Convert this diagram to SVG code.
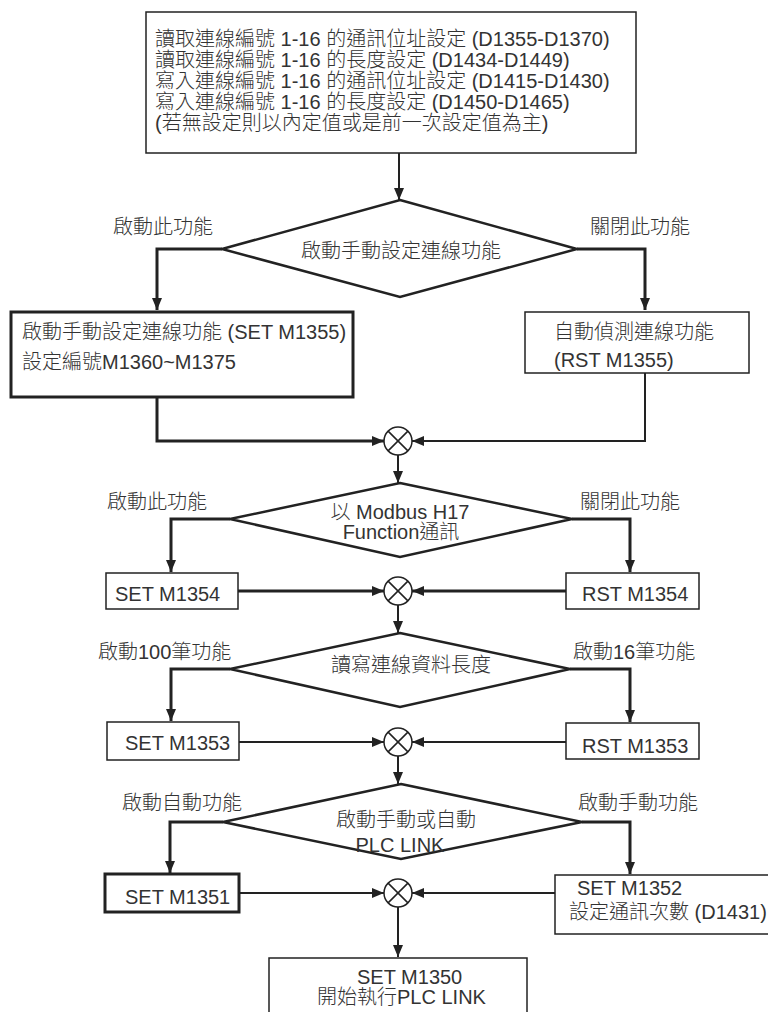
<svg xmlns="http://www.w3.org/2000/svg" width="768" height="1012" viewBox="0 0 768 1012">
<style>
text{font-family:"Liberation Sans","Noto Sans CJK TC","Noto Sans CJK SC",sans-serif;font-size:20px;fill:#333;font-weight:300}
.box{fill:#fff;stroke:#222;stroke-width:1.5}
.thick{stroke-width:3}
.dia{fill:#fff;stroke:#222;stroke-width:2.5;stroke-linejoin:miter}
.c{fill:none;stroke:#222;stroke-width:2}
.b{fill:none;stroke:#222;stroke-width:3}
.m{fill:#fff;stroke:#222;stroke-width:1.5}
.mid{text-anchor:middle}
</style>
<defs>
<marker id="ah" markerUnits="userSpaceOnUse" markerWidth="12" markerHeight="12" viewBox="0 0 12 12" refX="12" refY="6" orient="auto">
<path d="M0,1 L12,6 L0,11 Z" fill="#222"/>
</marker>
</defs>
<rect width="768" height="1012" fill="#fff"/>
<g id="connectors">
<path class="c" d="M399,153 V200" marker-end="url(#ah)"/>
<path class="b" d="M222,249 H157 V310" marker-end="url(#ah)"/>
<path class="b" d="M577,249 H645 V310" marker-end="url(#ah)"/>
<path class="b" d="M157,397 V441 H384" marker-end="url(#ah)"/>
<path class="c" d="M645,373 V441 H412" marker-end="url(#ah)"/>
<path class="c" d="M398,455 V483" marker-end="url(#ah)"/>
<path class="b" d="M230,519 H171 V572" marker-end="url(#ah)"/>
<path class="b" d="M572,519 H630 V572" marker-end="url(#ah)"/>
<path class="b" d="M238,591 H384" marker-end="url(#ah)"/>
<path class="b" d="M566,591 H412" marker-end="url(#ah)"/>
<path class="c" d="M398,605 V633" marker-end="url(#ah)"/>
<path class="b" d="M230,669 H171 V721" marker-end="url(#ah)"/>
<path class="b" d="M570,669 H630 V722" marker-end="url(#ah)"/>
<path class="c" d="M239,742 H384" marker-end="url(#ah)"/>
<path class="c" d="M566,742 H412" marker-end="url(#ah)"/>
<path class="c" d="M398,756 V784" marker-end="url(#ah)"/>
<path class="b" d="M223,822 H170 V873" marker-end="url(#ah)"/>
<path class="b" d="M582,822 H630 V874" marker-end="url(#ah)"/>
<path class="c" d="M239,893 H384" marker-end="url(#ah)"/>
<path class="c" d="M555,893 H412" marker-end="url(#ah)"/>
<path class="c" d="M398,907 V957" marker-end="url(#ah)"/>
</g>
<g id="start">
<rect class="box" x="146" y="12" width="490" height="141"/>
<text x="155" y="46">讀取連線編號 1-16 的通訊位址設定 (D1355-D1370)</text>
<text x="155" y="67">讀取連線編號 1-16 的長度設定 (D1434-D1449)</text>
<text x="155" y="88">寫入連線編號 1-16 的通訊位址設定 (D1415-D1430)</text>
<text x="155" y="109">寫入連線編號 1-16 的長度設定 (D1450-D1465)</text>
<text x="155" y="130">(若無設定則以內定值或是前一次設定值為主)</text>
</g>
<g id="d1">
<polygon class="dia" points="400,200 577,249 400,297 222,249"/>
<text class="mid" x="401" y="258">啟動手動設定連線功能</text>
<text x="113" y="234">啟動此功能</text>
<text x="590" y="234">關閉此功能</text>
</g>
<g id="manual">
<rect class="box thick" x="11" y="312" width="342" height="85"/>
<text x="22" y="339">啟動手動設定連線功能 (SET M1355)</text>
<text x="22" y="369">設定編號M1360~M1375</text>
</g>
<g id="auto">
<rect class="box" x="525" y="312" width="224" height="61"/>
<text x="554" y="339">自動偵測連線功能</text>
<text x="554" y="367">(RST M1355)</text>
</g>
<g id="m1">
<circle class="m" cx="398" cy="441" r="14"/>
<path class="m" d="M388.1,431.1 L407.9,450.9 M407.9,431.1 L388.1,450.9"/>
</g>
<g id="d2">
<polygon class="dia" points="400,483 572,519 400,557 230,519"/>
<text class="mid" x="400" y="519">以 Modbus H17</text>
<text class="mid" x="401" y="539">Function通訊</text>
<text x="107" y="509">啟動此功能</text>
<text x="580" y="509">關閉此功能</text>
</g>
<g id="set1354">
<rect class="box" x="106" y="573" width="132" height="36"/>
<text x="115" y="601">SET M1354</text>
</g>
<g id="rst1354">
<rect class="box" x="566" y="573" width="133" height="36"/>
<text x="582" y="601">RST M1354</text>
</g>
<g id="m2">
<circle class="m" cx="398" cy="591" r="14"/>
<path class="m" d="M388.1,581.1 L407.9,600.9 M407.9,581.1 L388.1,600.9"/>
</g>
<g id="d3">
<polygon class="dia" points="400,633 570,669 400,707 230,669"/>
<text x="331" y="672">讀寫連線資料長度</text>
<text x="98" y="659">啟動100筆功能</text>
<text x="573" y="659">啟動16筆功能</text>
</g>
<g id="set1353">
<rect class="box" x="107" y="722" width="132" height="38"/>
<text x="125" y="750">SET M1353</text>
</g>
<g id="rst1353">
<rect class="box" x="566" y="723" width="133" height="36"/>
<text x="582" y="753">RST M1353</text>
</g>
<g id="m3">
<circle class="m" cx="398" cy="742" r="14"/>
<path class="m" d="M388.1,732.1 L407.9,751.9 M407.9,732.1 L388.1,751.9"/>
</g>
<g id="d4">
<polygon class="dia" points="401,784 582,822 401,859 223,822"/>
<text x="336" y="827">啟動手動或自動</text>
<text class="mid" x="400" y="852">PLC LINK</text>
<text x="122" y="810">啟動自動功能</text>
<text x="578" y="810">啟動手動功能</text>
</g>
<g id="set1351">
<rect class="box thick" x="105" y="874" width="134" height="38"/>
<text x="125" y="904">SET M1351</text>
</g>
<g id="set1352">
<rect class="box" x="555" y="875" width="225" height="59"/>
<text x="577" y="895">SET M1352</text>
<text x="569" y="919">設定通訊次數 (D1431)</text>
</g>
<g id="m4">
<circle class="m" cx="398" cy="893" r="14"/>
<path class="m" d="M388.1,883.1 L407.9,902.9 M407.9,883.1 L388.1,902.9"/>
</g>
<g id="set1350">
<rect class="box" x="269" y="958" width="258" height="60"/>
<text x="357" y="984">SET M1350</text>
<text x="317" y="1004">開始執行PLC LINK</text>
</g>
</svg>
